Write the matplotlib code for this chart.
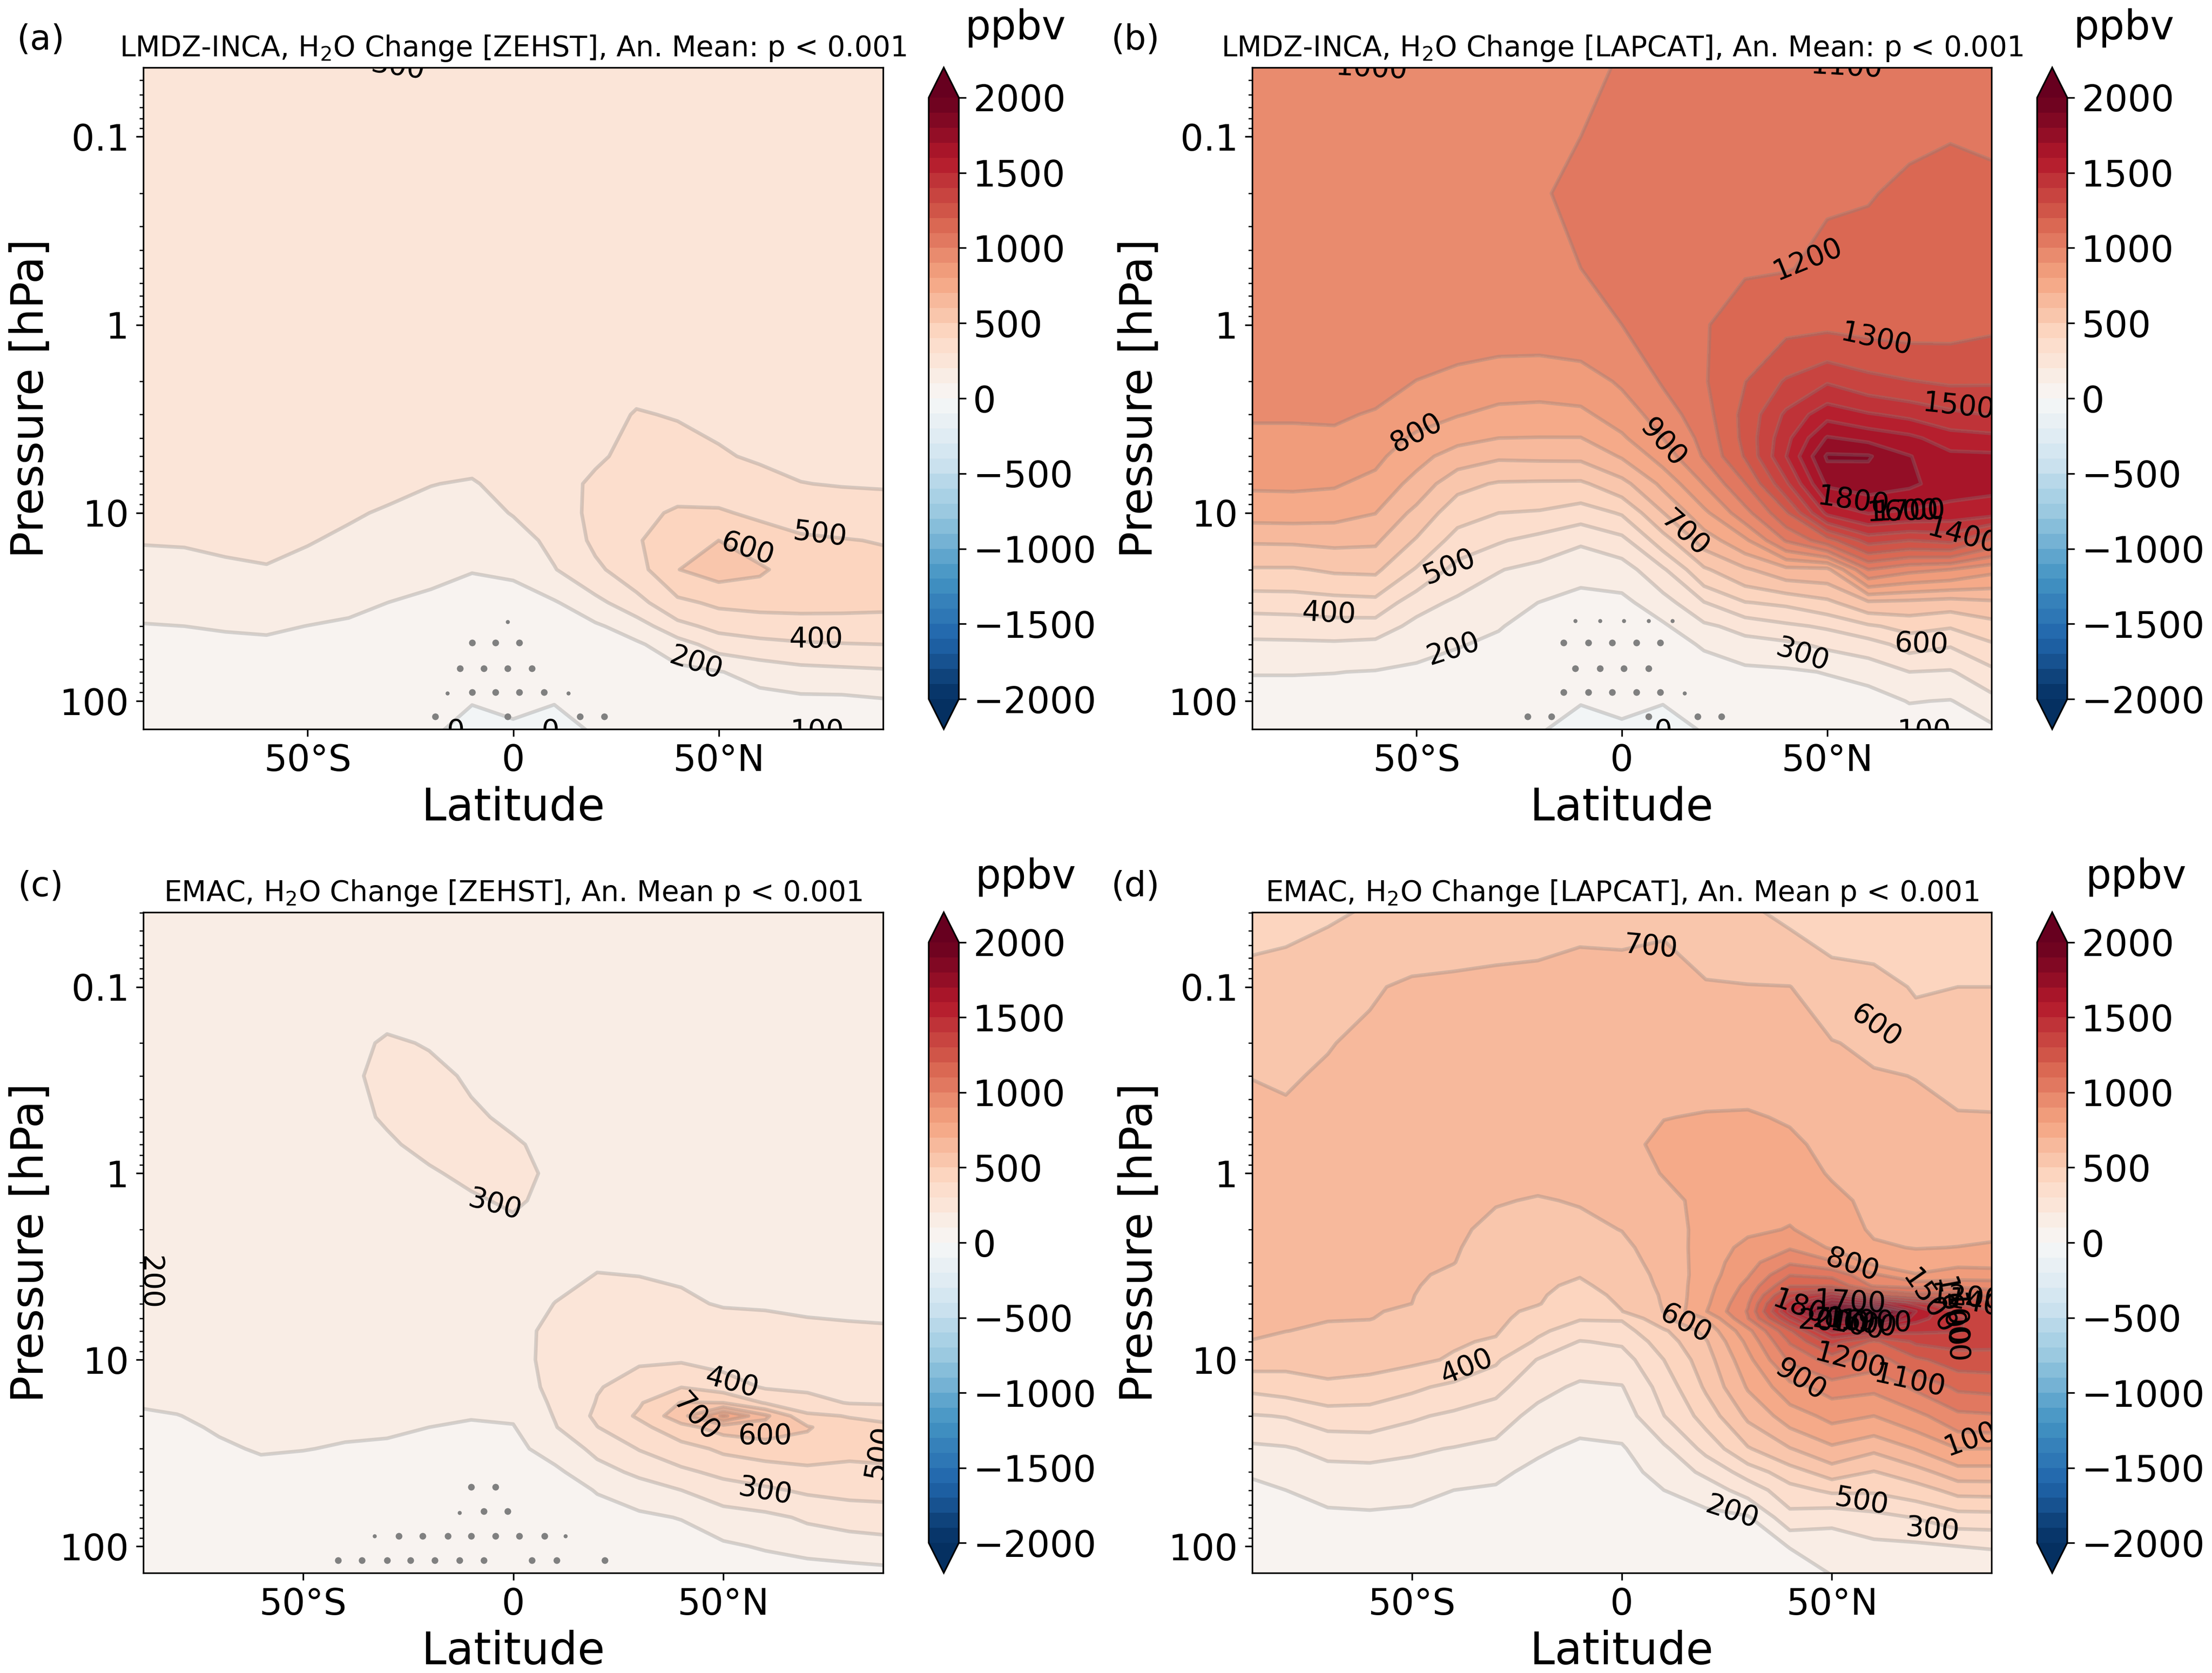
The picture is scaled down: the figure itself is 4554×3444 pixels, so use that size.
import numpy as np
import matplotlib
matplotlib.use("Agg")
import matplotlib.pyplot as plt
from matplotlib.ticker import FuncFormatter

W, H = 4554, 3444

# latitude columns are the same for all panels
lat = [-90, -80, -70, -60, -50, -40, -30, -20, -10, 0, 10, 20, 30, 40, 50, 60, 70, 80, 90]

p_a = [0.04, 0.1, 0.2, 0.5, 1, 2, 3, 5, 7, 10, 14, 20, 30, 40, 50, 70, 100, 145]
p_b = [0.04, 0.1, 0.2, 0.5, 1, 2, 3, 4, 5, 7, 10, 14, 20, 30, 40, 50, 70, 100, 145]
p_c = [0.039, 0.1, 0.2, 0.3, 0.5, 0.7, 1, 1.4, 2, 3, 5, 7, 10, 14, 17, 20, 23, 30, 40, 50, 70, 100, 140]
p_d = [0.039, 0.1, 0.2, 0.3, 0.5, 0.7, 1, 1.4, 2, 2.5, 3, 3.5, 4, 4.5, 5, 5.5, 6, 7, 8, 10, 14, 20, 30, 40, 50, 70, 100, 140]

# one row per latitude, one value per pressure level (ppbv, as the line labels read)
h2o_a = [
    [360, 360, 360, 360, 360, 360, 360, 360, 350, 335, 305, 268, 226, 196, 175, 150, 135, 125],
    [360, 360, 360, 360, 360, 360, 360, 360, 350, 335, 308, 270, 230, 200, 178, 150, 135, 125],
    [360, 360, 360, 360, 360, 360, 360, 360, 350, 335, 320, 282, 238, 206, 185, 160, 142, 128],
    [360, 360, 360, 360, 360, 360, 360, 360, 355, 340, 330, 292, 245, 211, 187, 160, 140, 125],
    [360, 360, 360, 360, 360, 360, 360, 360, 355, 335, 306, 270, 229, 199, 178, 155, 140, 125],
    [360, 360, 360, 360, 360, 360, 360, 350, 345, 310, 283, 251, 216, 190, 172, 150, 135, 125],
    [360, 360, 360, 360, 360, 360, 360, 350, 320, 290, 262, 232, 199, 175, 160, 145, 130, 120],
    [360, 360, 360, 360, 360, 360, 360, 330, 302, 274, 247, 218, 185, 165, 150, 135, 125, 115],
    [360, 360, 360, 360, 360, 360, 360, 325, 293, 263, 234, 203, 170, 150, 140, 128, 105, 60],
    [360, 360, 360, 360, 360, 360, 365, 350, 330, 305, 260, 212, 170, 150, 140, 128, 112, 90],
    [360, 360, 360, 360, 360, 360, 360, 358, 355, 340, 325, 295, 190, 165, 150, 135, 105, 55],
    [360, 360, 360, 360, 360, 362, 370, 385, 420, 430, 420, 380, 270, 185, 165, 145, 125, 110],
    [360, 360, 360, 360, 365, 380, 405, 430, 450, 480, 490, 460, 366, 250, 185, 155, 130, 115],
    [360, 360, 360, 362, 365, 375, 395, 435, 470, 510, 560, 598, 476, 370, 255, 175, 150, 125],
    [360, 360, 360, 362, 365, 372, 385, 408, 460, 510, 600, 640, 520, 430, 345, 195, 155, 125],
    [360, 360, 360, 362, 364, 365, 375, 390, 428, 483, 548, 615, 530, 450, 372, 235, 165, 130],
    [360, 360, 360, 360, 360, 360, 365, 380, 402, 460, 515, 550, 530, 460, 388, 265, 175, 135],
    [360, 360, 360, 360, 360, 360, 362, 375, 395, 450, 505, 540, 525, 465, 395, 275, 175, 130],
    [360, 360, 360, 360, 360, 360, 362, 372, 392, 440, 495, 530, 520, 465, 400, 285, 190, 135],
]

h2o_b = [
    [1050, 1050, 1050, 1050, 1050, 1040, 1010, 980, 955, 915, 842, 712, 590, 440, 345, 280, 205, 155, 125],
    [1050, 1050, 1050, 1050, 1050, 1040, 1010, 980, 958, 917, 845, 715, 590, 445, 350, 282, 205, 155, 125],
    [1050, 1050, 1050, 1050, 1050, 1045, 1015, 980, 955, 910, 835, 725, 615, 460, 360, 285, 202, 155, 125],
    [1060, 1060, 1060, 1060, 1060, 1040, 990, 945, 925, 870, 802, 717, 620, 470, 355, 275, 195, 150, 125],
    [1065, 1065, 1065, 1065, 1060, 998, 935, 885, 834, 765, 670, 590, 490, 340, 270, 235, 180, 140, 120],
    [1070, 1075, 1078, 1075, 1060, 965, 905, 830, 755, 630, 540, 460, 365, 280, 235, 205, 165, 135, 115],
    [1075, 1082, 1088, 1080, 1050, 945, 875, 800, 715, 590, 500, 410, 305, 240, 205, 185, 155, 130, 112],
    [1070, 1085, 1092, 1085, 1050, 940, 870, 797, 720, 585, 490, 365, 270, 198, 170, 155, 135, 120, 105],
    [1080, 1100, 1120, 1100, 1065, 950, 880, 797, 722, 583, 450, 315, 230, 170, 150, 140, 125, 105, 60],
    [1105, 1130, 1140, 1130, 1100, 1015, 945, 885, 810, 665, 510, 370, 250, 175, 150, 135, 120, 112, 90],
    [1150, 1165, 1175, 1175, 1160, 1110, 1050, 1000, 945, 825, 697, 555, 385, 255, 185, 160, 130, 105, 55],
    [1160, 1170, 1175, 1185, 1195, 1190, 1160, 1130, 1110, 1005, 875, 745, 585, 395, 280, 210, 160, 125, 105],
    [1170, 1180, 1185, 1195, 1230, 1298, 1330, 1330, 1310, 1197, 1065, 880, 685, 495, 335, 265, 175, 135, 110],
    [1175, 1180, 1190, 1196, 1275, 1412, 1520, 1570, 1598, 1480, 1285, 1110, 770, 520, 380, 280, 185, 140, 115],
    [1180, 1185, 1195, 1215, 1280, 1490, 1665, 1810, 1915, 1820, 1625, 1260, 775, 575, 415, 320, 205, 145, 115],
    [1185, 1190, 1195, 1240, 1270, 1435, 1610, 1770, 1910, 1850, 1705, 1440, 1100, 680, 485, 355, 235, 155, 120],
    [1190, 1190, 1215, 1255, 1265, 1405, 1575, 1725, 1805, 1820, 1680, 1400, 1030, 670, 535, 440, 300, 205, 130],
    [1195, 1198, 1220, 1250, 1270, 1385, 1525, 1645, 1725, 1750, 1660, 1430, 1000, 650, 510, 410, 290, 195, 130],
    [1190, 1195, 1210, 1240, 1285, 1390, 1495, 1630, 1720, 1735, 1640, 1280, 930, 680, 560, 490, 375, 265, 170],
]

h2o_c = [
    [270, 270, 270, 270, 270, 270, 270, 270, 270, 270, 270, 260, 240, 220, 205, 190, 178, 160, 145, 135, 125, 115, 110],
    [270, 270, 270, 270, 270, 270, 270, 270, 270, 270, 270, 260, 245, 225, 212, 198, 188, 170, 150, 140, 125, 115, 110],
    [270, 270, 270, 270, 270, 270, 270, 270, 270, 270, 270, 265, 250, 235, 225, 215, 207, 190, 165, 150, 130, 118, 110],
    [270, 270, 270, 270, 270, 270, 270, 270, 270, 270, 270, 265, 255, 240, 230, 220, 214, 206, 180, 165, 140, 120, 110],
    [270, 270, 270, 270, 270, 270, 270, 270, 270, 270, 270, 265, 250, 240, 232, 222, 215, 202, 175, 160, 135, 120, 110],
    [275, 282, 290, 292, 292, 290, 285, 280, 275, 270, 265, 260, 250, 235, 225, 218, 210, 195, 170, 155, 135, 120, 110],
    [278, 285, 304, 310, 303, 296, 290, 283, 278, 272, 268, 262, 252, 240, 230, 222, 214, 185, 165, 150, 130, 118, 108],
    [280, 288, 298, 308, 312, 308, 296, 285, 278, 272, 266, 260, 248, 232, 220, 210, 200, 178, 160, 148, 130, 115, 105],
    [280, 285, 290, 296, 305, 312, 308, 295, 282, 273, 265, 258, 245, 228, 215, 204, 192, 172, 155, 145, 128, 112, 105],
    [280, 282, 285, 288, 294, 304, 312, 306, 290, 275, 275, 275, 272, 260, 240, 212, 195, 175, 158, 145, 128, 112, 105],
    [278, 280, 282, 284, 286, 290, 292, 288, 282, 282, 301, 320, 325, 322, 314, 306, 295, 240, 180, 160, 135, 115, 105],
    [278, 280, 282, 284, 286, 288, 288, 288, 290, 295, 320, 345, 375, 395, 405, 420, 398, 325, 265, 205, 165, 130, 110],
    [278, 280, 282, 282, 284, 285, 285, 286, 286, 290, 325, 355, 392, 430, 490, 515, 470, 405, 320, 255, 180, 135, 110],
    [278, 280, 282, 282, 284, 285, 285, 286, 286, 288, 310, 345, 390, 498, 605, 660, 570, 460, 380, 300, 205, 140, 112],
    [278, 280, 280, 282, 282, 283, 283, 284, 284, 285, 295, 335, 365, 450, 600, 920, 640, 520, 425, 355, 255, 185, 130],
    [278, 280, 280, 280, 280, 282, 282, 282, 282, 283, 295, 318, 345, 390, 492, 720, 660, 550, 450, 385, 275, 210, 140],
    [278, 278, 280, 280, 280, 280, 280, 280, 280, 282, 290, 312, 345, 385, 430, 520, 610, 555, 475, 415, 315, 235, 150],
    [278, 278, 278, 280, 280, 280, 280, 280, 280, 280, 285, 310, 345, 380, 395, 495, 530, 530, 470, 430, 340, 250, 160],
    [278, 278, 278, 280, 280, 280, 280, 280, 280, 280, 280, 308, 340, 370, 390, 465, 520, 535, 480, 435, 350, 265, 170],
]

h2o_d = [
    [570, 630, 665, 700, 715, 725, 730, 730, 725, 722, 720, 718, 715, 712, 710, 708, 706, 703, 700, 650, 520, 390, 275, 205, 180, 150, 125, 110],
    [580, 635, 665, 690, 715, 725, 730, 730, 725, 720, 720, 715, 712, 710, 708, 706, 705, 701, 680, 635, 545, 405, 290, 240, 200, 155, 125, 110],
    [590, 660, 695, 712, 720, 725, 730, 730, 725, 720, 720, 715, 715, 710, 708, 705, 703, 690, 670, 640, 580, 450, 330, 270, 230, 180, 135, 110],
    [605, 690, 720, 725, 730, 730, 730, 730, 725, 720, 720, 715, 715, 710, 710, 705, 702, 680, 665, 635, 565, 450, 340, 270, 235, 185, 140, 110],
    [640, 715, 730, 730, 735, 735, 735, 730, 725, 720, 715, 712, 708, 703, 700, 690, 680, 660, 645, 620, 520, 415, 315, 265, 230, 175, 135, 110],
    [650, 720, 735, 740, 745, 740, 735, 725, 715, 708, 702, 685, 670, 660, 650, 640, 635, 620, 610, 590, 475, 380, 295, 230, 200, 155, 125, 105],
    [660, 725, 740, 745, 740, 730, 715, 705, 680, 665, 655, 645, 640, 635, 630, 625, 620, 610, 590, 515, 430, 345, 275, 220, 190, 150, 120, 105],
    [670, 725, 745, 750, 745, 735, 720, 695, 665, 650, 635, 625, 615, 610, 605, 580, 565, 520, 485, 395, 330, 270, 215, 175, 160, 135, 115, 105],
    [680, 735, 755, 765, 770, 755, 730, 705, 680, 660, 640, 605, 585, 565, 545, 525, 508, 450, 395, 345, 285, 235, 180, 155, 145, 125, 110, 105],
    [680, 730, 760, 770, 785, 775, 755, 730, 702, 680, 665, 650, 635, 620, 610, 598, 510, 460, 415, 355, 295, 245, 190, 160, 145, 125, 110, 105],
    [690, 725, 760, 780, 798, 820, 805, 770, 750, 745, 735, 725, 720, 712, 708, 703, 685, 585, 550, 500, 440, 398, 280, 240, 200, 155, 120, 105],
    [640, 710, 750, 775, 805, 815, 825, 830, 835, 840, 845, 850, 860, 870, 880, 895, 805, 730, 690, 655, 615, 540, 430, 320, 250, 170, 125, 105],
    [610, 705, 730, 765, 810, 830, 840, 855, 880, 930, 965, 990, 1030, 1060, 1090, 1108, 1095, 970, 925, 870, 810, 720, 590, 445, 340, 190, 130, 110],
    [580, 702, 730, 755, 790, 820, 850, 875, 905, 990, 1085, 1195, 1290, 1440, 1560, 1620, 1500, 1285, 1210, 1120, 965, 850, 695, 555, 465, 365, 205, 130],
    [560, 640, 705, 725, 750, 770, 790, 830, 860, 885, 1015, 1170, 1280, 1600, 1880, 2050, 1850, 1620, 1440, 1240, 1040, 930, 780, 650, 520, 325, 250, 205],
    [540, 640, 680, 708, 732, 745, 760, 770, 785, 815, 870, 1015, 1085, 1320, 1750, 2180, 2000, 1550, 1280, 1150, 1025, 900, 720, 595, 515, 365, 275, 210],
    [530, 590, 660, 698, 722, 740, 755, 775, 770, 795, 855, 905, 1060, 1230, 1550, 1700, 1640, 1520, 1420, 1280, 1120, 970, 805, 660, 555, 405, 280, 220],
    [520, 600, 640, 680, 705, 725, 740, 755, 770, 802, 875, 940, 1070, 1260, 1395, 1470, 1510, 1505, 1440, 1350, 1220, 1075, 900, 760, 635, 455, 300, 230],
    [500, 600, 635, 670, 705, 725, 740, 755, 785, 810, 860, 945, 1050, 1150, 1320, 1400, 1440, 1450, 1430, 1355, 1235, 1090, 900, 760, 640, 460, 310, 230],
]

# stippled grid points; lat and pressure of each dot
stip_a_lat = [-10, -4.3, 1.5, -13, -7.2, -1.4, 4.6, -10, -4.3, 1.5, 7.5, -19, -1.4, 16.3, 22.2]
stip_a_p = [49, 49, 49, 67, 67, 67, 67, 90, 90, 90, 90, 121, 121, 121, 121]
stip_a_small_lat = [-1.4, -16, 13.4]
stip_a_small_p = [38, 91, 91]

stip_b_lat = [-14.2, -8.2, -2.4, 3.6, 9.4, -11.3, -5.3, 0.5, 6.5, -14.2, -8.2, -2.4, 3.6, 9.4, -23, -17.2, 6.5, 18.4, 24.2]
stip_b_p = [49, 49, 49, 49, 49, 67, 67, 67, 67, 90, 90, 90, 90, 90, 121, 121, 121, 121, 121]
stip_b_small_lat = [-11.3, -5.3, 0.5, 6.5, 12.3, 15.3]
stip_b_small_p = [37.5, 37.5, 37.5, 37.5, 37.5, 91]

stip_c_lat = [-10, -4.2, -7, -1.3, -27.2, -21.5, -15.6, -10, -4.2, 1.5, 7.4,
              -41.7, -36, -30, -24.4, -18.7, -12.8, -7, 4.5, 10.3, 21.8]
stip_c_p = [48, 48, 65, 65, 88, 88, 88, 88, 88, 88, 88,
            119, 119, 119, 119, 119, 119, 119, 119, 119, 119]
stip_c_small_lat = [-12.8, -33, 12.4]
stip_c_small_p = [66, 88, 88]

# contour labels: text, lat, pressure, rotation
labels_a = [("300", -28, 0.0427, -8), ("600", 57, 15.6, -18), ("500", 74.6, 13, -7), ("400", 73.7, 47, 0),
            ("200", 44.5, 63, -18), ("100", 74, 146, 0), ("0", -14, 146, 0), ("0", 9, 146, 0)]
labels_b = [("1000", -61, 0.0435, -3), ("1100", 54.7, 0.0427, -3), ("1200", 45.3, 0.45, 22), ("1300", 62, 1.2, -12),
            ("1500", 82, 2.72, -6), ("800", -50, 3.77, 28), ("900", 10, 4.25, -48), ("700", 15.3, 12.9, -42),
            ("500", -42, 19.4, 22), ("400", -71.4, 34.4, -3), ("200", -41, 53, 18), ("300", 44, 57, -18),
            ("600", 73, 50, -2), ("1400", 83, 13.3, -15), ("1800", 56.4, 8.7, -8), ("1600", 68.4, 9.9, 2),
            ("1700", 70, 9.8, 2), ("100", 73.6, 146, 0), ("0", 10, 146, 0)]
labels_c = [("300", -4.4, 1.48, -15), ("200", -86.5, 3.86, -90), ("400", 52, 13.3, -15), ("700", 43.5, 20.4, -48),
            ("600", 60, 25.7, 0), ("500", 87, 31.3, 80), ("300", 60, 51, -10)]
labels_d = [("700", 6.9, 0.061, -5), ("600", 60.5, 0.163, -35), ("800", 54.8, 3.11, -18), ("600", 15.2, 6.43, -28),
            ("400", -37, 10.9, 22), ("1700", 54.3, 4.93, -3), ("1800", 44.2, 5.43, -20), ("2000", 50.5, 6.3, -3),
            ("2100", 54, 6.5, -10), ("1900", 60.5, 6.3, -2), ("1600", 57, 6.4, -8), ("1200", 82, 4.65, -5),
            ("1400", 86, 5.1, -10), ("1500", 73, 4.9, -55), ("1600", 78, 5.6, -80), ("1000", 79, 6.8, -88),
            ("1200", 54.3, 10.2, -15), ("1100", 68.5, 13, -12), ("900", 42.5, 12.8, -32), ("1000", 85, 25.7, 20),
            ("500", 57, 57.8, -10), ("300", 74, 81.5, -5), ("200", 26.3, 66, -18)]

levels = np.arange(-2000, 2001, 100)
# the filled bands sit one level under the line labels in the original
band_offset = 100


def rect(l, t, r, b):
    return [l / W, 1 - b / H, (r - l) / W, (b - t) / H]


def draw_panel(box, cbox, p, z, xlim, ylim, title, letter, letter_xy, unit_xy, labels,
               stip=None, small=None):
    ax = fig.add_axes(rect(*box))
    z = np.array(z, dtype=float).T
    cf = ax.contourf(lat, p, z - band_offset, levels=levels, cmap="RdBu_r", extend="both")
    ax.contour(lat, p, z - band_offset, levels=levels, colors="gray", alpha=0.3, linewidths=1.8)
    if stip is not None:
        ax.scatter(stip[0], stip[1], s=11, color="gray", linewidths=0, zorder=3)
    if small is not None:
        ax.scatter(small[0], small[1], s=4, color="gray", linewidths=0, zorder=3)
    for txt, x, y, rot in labels:
        ax.text(x, y, txt, fontsize=14, rotation=rot, rotation_mode="anchor", ha="center", va="center",
                color="black", clip_on=True, zorder=4)
    ax.set_yscale("log")
    ax.set_xlim(*xlim)
    ax.set_ylim(*ylim)
    ax.set_xticks([-50, 0, 50])
    ax.set_xticklabels(["50°S", "0", "50°N"])
    ax.yaxis.set_major_formatter(FuncFormatter(lambda v, pos: "%g" % v))
    ax.tick_params(axis="both", which="major", labelsize=18)
    ax.set_xlabel("Latitude", fontsize=22, labelpad=3.5)
    ax.set_ylabel("Pressure [hPa]", fontsize=22, labelpad=3.5)
    ax.set_title(title, fontsize=14, pad=5.5)

    cax = fig.add_axes(rect(*cbox))
    cb = fig.colorbar(cf, cax=cax, ticks=np.arange(-2000, 2001, 500))
    cb.ax.tick_params(labelsize=18)

    fig.text(letter_xy[0] / W, 1 - letter_xy[1] / H, letter, fontsize=17, ha="center", va="center")
    fig.text(unit_xy[0] / W, 1 - unit_xy[1] / H, "ppbv", fontsize=20, ha="center", va="center")


fig = plt.figure(figsize=(W / 300, H / 300), dpi=300)

xlim_lmdz = (-90, 90)
xlim_emac = (-88, 88)
ylim_lmdz = (141, 0.0429)
ylim_emac = (139, 0.0398)

draw_panel((295, 139, 1818, 1501), (1912, 139, 1974, 1501), p_a, h2o_a, xlim_lmdz, ylim_lmdz,
           "LMDZ-INCA, H$_2$O Change [ZEHST], An. Mean: p < 0.001", "(a)", (84, 82), (2090, 58), labels_a,
           (stip_a_lat, stip_a_p), (stip_a_small_lat, stip_a_small_p))
draw_panel((2578, 139, 4100, 1501), (4194, 139, 4256, 1501), p_b, h2o_b, xlim_lmdz, ylim_lmdz,
           "LMDZ-INCA, H$_2$O Change [LAPCAT], An. Mean: p < 0.001", "(b)", (2338, 82), (4372, 58), labels_b,
           (stip_b_lat, stip_b_p), (stip_b_small_lat, stip_b_small_p))
draw_panel((295, 1878, 1818, 3238), (1912, 1878, 1974, 3238), p_c, h2o_c, xlim_emac, ylim_emac,
           "EMAC, H$_2$O Change [ZEHST], An. Mean p < 0.001", "(c)", (84, 1825), (2111, 1806), labels_c,
           (stip_c_lat, stip_c_p), (stip_c_small_lat, stip_c_small_p))
draw_panel((2578, 1878, 4100, 3238), (4194, 1878, 4256, 3238), p_d, h2o_d, xlim_emac, ylim_emac,
           "EMAC, H$_2$O Change [LAPCAT], An. Mean p < 0.001", "(d)", (2338, 1825), (4397, 1806), labels_d)

fig.savefig("out.png", dpi=300)
